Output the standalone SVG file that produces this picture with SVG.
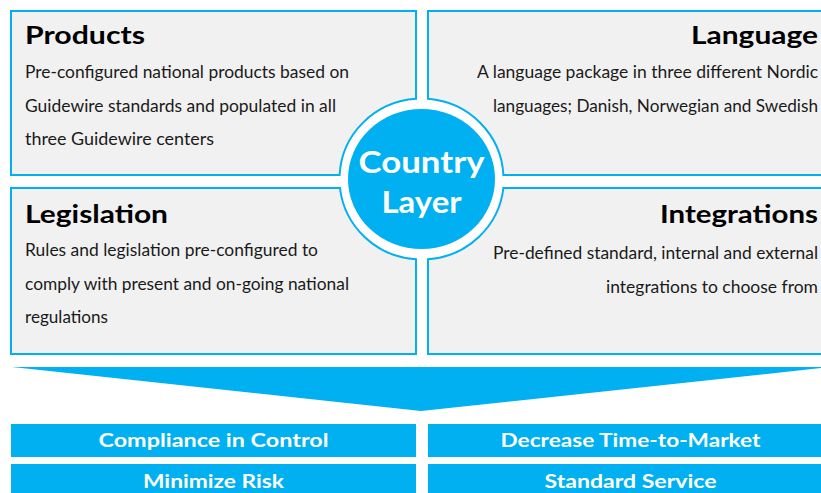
<svg xmlns="http://www.w3.org/2000/svg" width="821" height="493" viewBox="0 0 821 493">
<style>
.box{fill:#F1F1F1;stroke:#00B0F0;stroke-width:2}
.title{font-family:Lato,"Liberation Sans",sans-serif;font-weight:bold;font-size:25px;fill:#000}
.body{font-family:Lato,"Liberation Sans",sans-serif;font-size:17px;fill:#1a1a1a}
.ctext{font-family:Lato,"Liberation Sans",sans-serif;font-weight:bold;font-size:30px;fill:#fff;text-anchor:middle}
.bbox{fill:#00B0F0}
.btext{font-family:Lato,"Liberation Sans",sans-serif;font-weight:bold;font-size:19px;fill:#fff;text-anchor:middle}
.r{text-anchor:end}
</style>
<rect width="821" height="493" fill="#fff"/>
<g id="products">
<path class="box" d="M11,11 H416 V98.7 A82,80.5 0 0 0 339.6,175 H11 Z"/>
<text class="title" x="25" y="44" textLength="120" lengthAdjust="spacingAndGlyphs">Products</text>
<text class="body" x="25" y="78" textLength="324" lengthAdjust="spacingAndGlyphs">Pre-configured national products based on</text>
<text class="body" x="25" y="112" textLength="311" lengthAdjust="spacingAndGlyphs">Guidewire standards and populated in all</text>
<text class="body" x="25" y="145" textLength="189" lengthAdjust="spacingAndGlyphs">three Guidewire centers</text>
</g>
<g id="language">
<path class="box" d="M428,11 H833 V175 H503.4 A82,80.5 0 0 0 428,98.75 Z"/>
<text class="title r" x="818" y="44" textLength="127" lengthAdjust="spacingAndGlyphs">Language</text>
<text class="body r" x="818" y="78" textLength="341" lengthAdjust="spacingAndGlyphs">A language package in three different Nordic</text>
<text class="body r" x="818" y="112" textLength="325" lengthAdjust="spacingAndGlyphs">languages; Danish, Norwegian and Swedish</text>
</g>
<g id="legislation">
<path class="box" d="M11,188 H340 A82,80.5 0 0 0 416,259.3 V354 H11 Z"/>
<text class="title" x="25" y="223" textLength="143" lengthAdjust="spacingAndGlyphs">Legislation</text>
<text class="body" x="25" y="256" textLength="293" lengthAdjust="spacingAndGlyphs">Rules and legislation pre-configured to</text>
<text class="body" x="25" y="290" textLength="324" lengthAdjust="spacingAndGlyphs">comply with present and on-going national</text>
<text class="body" x="25" y="323" textLength="83" lengthAdjust="spacingAndGlyphs">regulations</text>
</g>
<g id="integrations">
<path class="box" d="M503.4,188 H833 V354 H428 V259.3 A82,80.5 0 0 0 503.4,188 Z"/>
<text class="title r" x="818" y="223" textLength="158" lengthAdjust="spacingAndGlyphs">Integrations</text>
<text class="body r" x="818" y="259" textLength="325" lengthAdjust="spacingAndGlyphs">Pre-defined standard, internal and external</text>
<text class="body r" x="818" y="293" textLength="212" lengthAdjust="spacingAndGlyphs">integrations to choose from</text>
</g>
<g id="country-layer">
<ellipse cx="421.5" cy="179" rx="73.5" ry="70" fill="#00B0F0"/>
<text class="ctext" x="421.5" y="173" textLength="126" lengthAdjust="spacingAndGlyphs">Country</text>
<text class="ctext" x="421.5" y="213" textLength="80" lengthAdjust="spacingAndGlyphs">Layer</text>
</g>
<g id="connectors">
<polygon points="12,367 831,367 421,411" fill="#00B0F0"/>
</g>
<g id="compliance">
<rect class="bbox" x="11" y="424" width="405" height="33"/>
<text class="btext" x="213.5" y="447" textLength="230" lengthAdjust="spacingAndGlyphs">Compliance in Control</text>
</g>
<g id="time-to-market">
<rect class="bbox" x="428" y="424" width="405" height="33"/>
<text class="btext" x="630.5" y="447" textLength="260" lengthAdjust="spacingAndGlyphs">Decrease Time-to-Market</text>
</g>
<g id="minimize-risk">
<rect class="bbox" x="11" y="464" width="405" height="33"/>
<text class="btext" x="213.5" y="488" textLength="141" lengthAdjust="spacingAndGlyphs">Minimize Risk</text>
</g>
<g id="standard-service">
<rect class="bbox" x="428" y="464" width="405" height="33"/>
<text class="btext" x="630.5" y="488" textLength="172" lengthAdjust="spacingAndGlyphs">Standard Service</text>
</g>
</svg>
